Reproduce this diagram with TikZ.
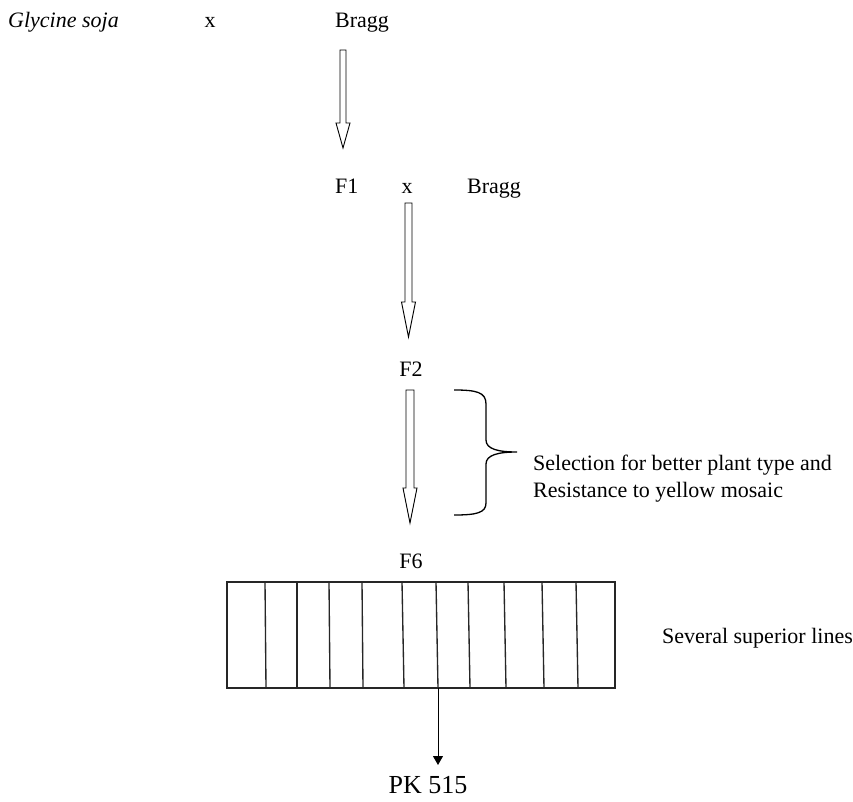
\documentclass[tikz,border=0pt]{standalone}
\usepackage{fontspec}
\setmainfont{Liberation Serif}
\usetikzlibrary{arrows.meta}

% hollow downward block arrow: centre x, shaft half-width, head half-width, top, neck, tip
\newcommand{\hollowarrow}[6]{%
  \draw[blockarrow] (#1-#2,#4) -- (#1-#2,#5) -- (#1-#3,#5) -- (#1,#6)
    -- (#1+#3,#5) -- (#1+#2,#5) -- (#1+#2,#4) -- cycle;}

\begin{document}
\begin{tikzpicture}[x=1pt,y=-1pt,
  lbl/.style={inner sep=0pt,font=\fontsize{22}{26}\selectfont},
  blockarrow/.style={draw=black,line width=0.9pt,fill=white,line join=miter},
  grid/.style={draw=black!85,line width=1.35pt},
  brace/.style={draw=black,line width=1.3pt},
  pointer/.style={draw=black,line width=1pt,-{Triangle[length=9pt,width=10pt]}}]
\useasboundingbox[fill=white] (0,0) rectangle (853,802);

% parents and crosses
\node[lbl,anchor=base west] (soja) at (8,28) {\itshape Glycine soja};
\node[lbl,anchor=base] (cross1) at (210,28) {x};
\node[lbl,anchor=base west] (bragg1) at (335,28) {Bragg};

\node[lbl,anchor=base west] (f1) at (335,194) {F1};
\node[lbl,anchor=base] (cross2) at (407,194) {x};
\node[lbl,anchor=base west] (bragg2) at (467,194) {Bragg};

\node[lbl,anchor=base] (f2) at (411,376) {F2};
\node[lbl,anchor=base] (f6) at (411,568) {F6};

% generation arrows
\hollowarrow{343}{3}{7}{50}{123}{148}
\hollowarrow{408.5}{3.5}{7}{203}{302}{337}
\hollowarrow{410}{4}{7}{390}{488}{523}

% selection brace
\draw[brace] (454,390) .. controls (476,390) and (486,392) .. (486,404)
  -- (486,440) .. controls (486,449) and (498,452) .. (517,452)
  .. controls (498,452) and (486,455) .. (486,464)
  -- (486,503) .. controls (486,513) and (476,515) .. (454,515);
\node[lbl,anchor=base west] (sel1) at (533,470) {Selection for better plant type and};
\node[lbl,anchor=base west] (sel2) at (533,497) {Resistance to yellow mosaic};

% F6 lines
\draw[grid] (227,582) rectangle (615,688);
\foreach \a/\b in {265/266,297/297,329/330,362/363,402/404,436/438,468/470,504/506,542/544,576/578}
  \draw[grid] (\a,582) -- (\b,688);
\node[lbl,anchor=base west] (lines) at (662,643) {Several superior lines};

% selected line
\coordinate (drop) at (438,688);
\coordinate (tipend) at (438,765);
\draw[pointer] (drop) -- (tipend);
\node[inner sep=0pt,anchor=base,font=\fontsize{26}{30}\selectfont] (pk) at (428,793) {PK 515};
\end{tikzpicture}
\end{document}
